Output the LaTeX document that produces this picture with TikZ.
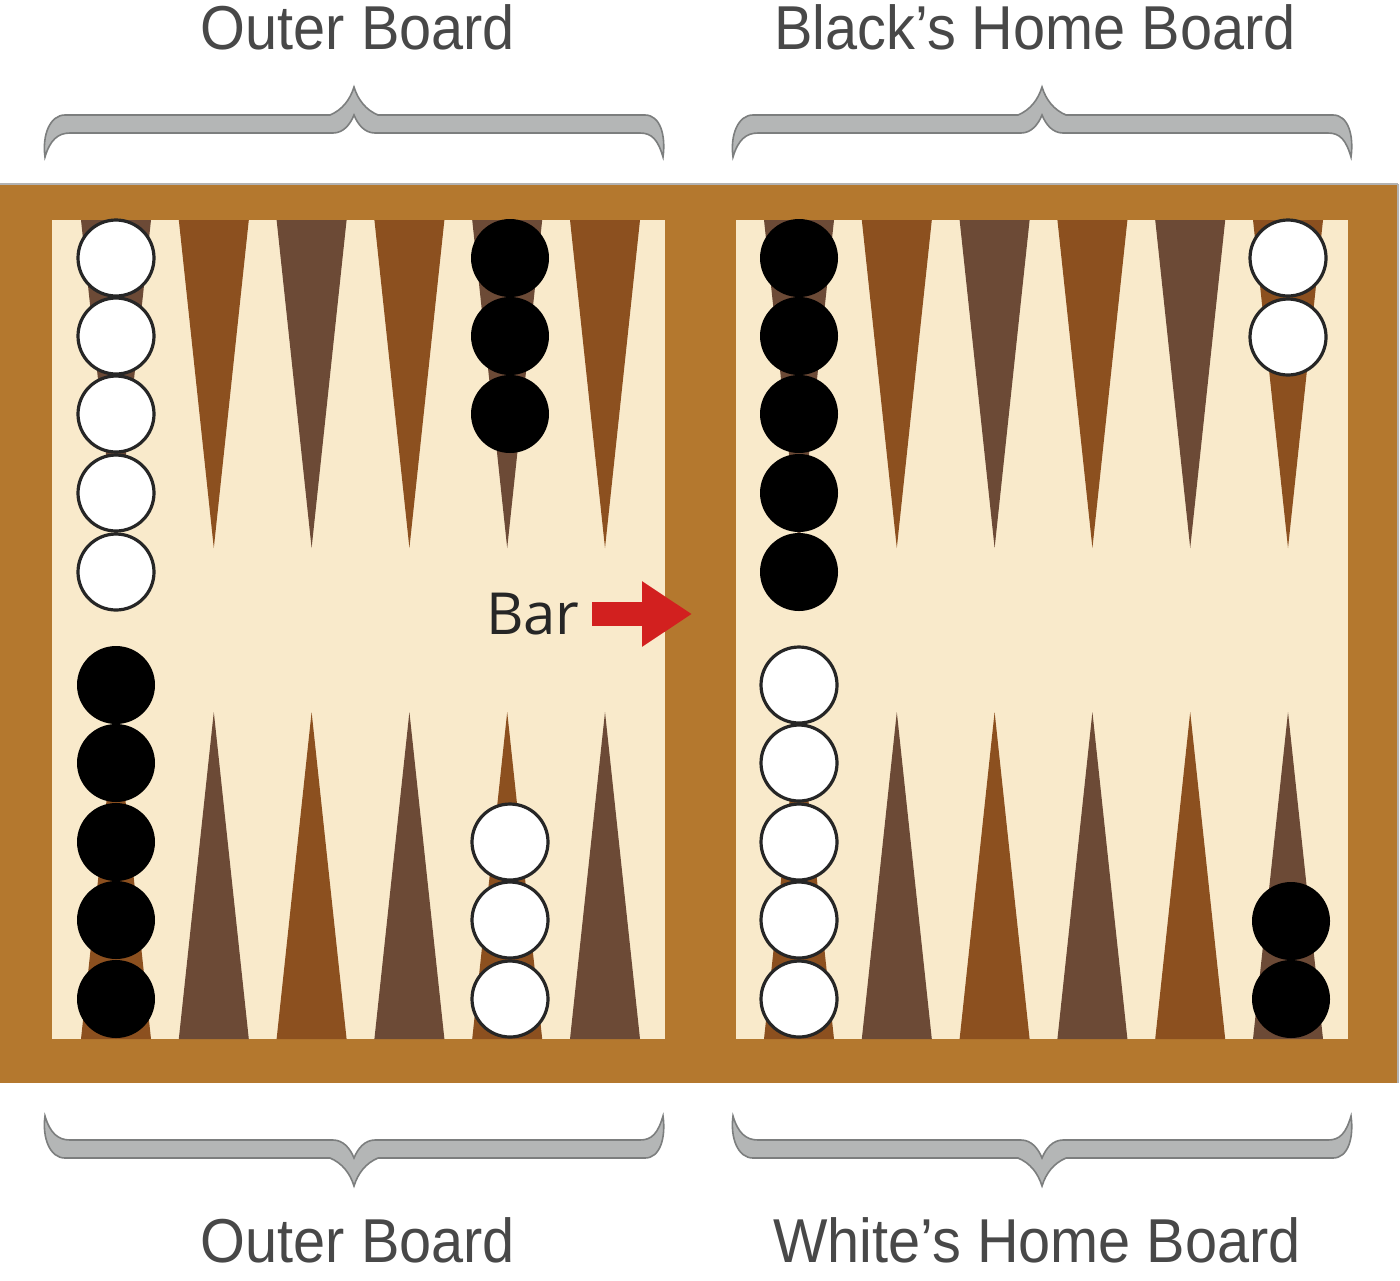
\documentclass[tikz,border=0pt]{standalone}
\usepackage{fontspec}
\setmainfont{Liberation Sans}
\newfontfamily\barfont{Open Sans}
\usetikzlibrary{arrows.meta}
\definecolor{boardframe}{HTML}{B4782E}
\definecolor{panelcream}{HTML}{F9EACB}
\definecolor{ptorange}{HTML}{8C501F}
\definecolor{ptdark}{HTML}{6C4A36}
\definecolor{bracefill}{HTML}{B4B6B6}
\definecolor{braceedge}{HTML}{7C7E7E}
\definecolor{headtext}{HTML}{484848}
\definecolor{arrowred}{HTML}{D2201F}
\tikzset{
  wchk/.style={circle, inner sep=0pt, minimum size=38pt, fill=white, draw=black!85, line width=1.6pt},
  bchk/.style={circle, inner sep=0pt, minimum size=39pt, fill=black},
  headlbl/.style={font=\fontsize{31}{34}\selectfont, text=headtext, xscale=0.93, inner sep=0pt},
  bracepath/.style={fill=bracefill, draw=braceedge, line width=0.8pt},
}
\newcommand{\bracefig}{%
  (-309,33) .. controls (-312,11) and (-304,-9) .. (-289,-9) -- (-24,-9)
  .. controls (-12,-14) and (-4,-24) .. (0,-37)
  .. controls (4,-24) and (12,-14) .. (24,-9) -- (291,-9)
  .. controls (306,-9) and (312,11) .. (309,33)
  .. controls (304,16) and (298,9) .. (286,9) -- (21,9)
  .. controls (11,9) and (4,1) .. (0,-9)
  .. controls (-4,1) and (-11,9) .. (-21,9) -- (-284,9)
  .. controls (-296,9) and (-304,16) .. (-309,33) -- cycle}
\begin{document}
\begin{tikzpicture}[x=0.5pt,y=-0.5pt]
\useasboundingbox (0,0) rectangle (1400,1280);
\fill[white] (0,0) rectangle (1400,1280);
% board
\fill[boardframe] (0,184) rectangle (1398,1083);
\draw[black!30, line width=1pt] (0,184) -- (1398,184);
\draw[black!30, line width=1pt] (1398,184) -- (1398,1083);
\fill[panelcream] (52,220) rectangle (665,1039);
\fill[panelcream] (736,220) rectangle (1348,1039);
% points
\foreach \c in {116,311.6,507.2,799,994.6,1190.2}
  \fill[ptdark] (\c-35,220) -- (\c+35,220) -- (\c,548) -- cycle;
\foreach \c in {213.8,409.4,605,896.8,1092.4,1288}
  \fill[ptorange] (\c-35,220) -- (\c+35,220) -- (\c,548) -- cycle;
\foreach \c in {116,311.6,507.2,799,994.6,1190.2}
  \fill[ptorange] (\c-35,1039) -- (\c+35,1039) -- (\c,712) -- cycle;
\foreach \c in {213.8,409.4,605,896.8,1092.4,1288}
  \fill[ptdark] (\c-35,1039) -- (\c+35,1039) -- (\c,712) -- cycle;
% checkers
\foreach \y [count=\k] in {258,336,414,493,572} {
  \node[wchk] (lw\k) at (116,\y) {};
  \node[bchk] (rb\k) at (799,\y) {};
}
\foreach \y [count=\k] in {685,763,842,920,999} {
  \node[bchk] (lb\k) at (116,\y) {};
  \node[wchk] (rw\k) at (799,\y) {};
}
\foreach \y [count=\k] in {258,336,414}
  \node[bchk] (tb\k) at (510,\y) {};
\foreach \y [count=\k] in {842,920,999}
  \node[wchk] (bw\k) at (510,\y) {};
\foreach \y [count=\k] in {258,337}
  \node[wchk] (hw\k) at (1288,\y) {};
\foreach \y [count=\k] in {921,999}
  \node[bchk] (hb\k) at (1291,\y) {};
% bar label and arrow
\node[anchor=east, inner sep=0pt, font=\barfont\fontsize{29}{32}\selectfont, text=black!85] (barlbl) at (580,614) {Bar};
\coordinate (bartip) at (692,614);
\draw[arrowred, line width=12pt, -{Triangle[length=25pt,width=31pt]}] ([xshift=6pt]barlbl.east) -- (bartip);
% braces
\begin{scope}[shift={(354,124)}] \path[bracepath] \bracefig; \end{scope}
\begin{scope}[shift={(1042,124)}] \path[bracepath] \bracefig; \end{scope}
\begin{scope}[shift={(354,1149)}, yscale=-1] \path[bracepath] \bracefig; \end{scope}
\begin{scope}[shift={(1042,1149)}, yscale=-1] \path[bracepath] \bracefig; \end{scope}
% headings
\node[headlbl] (tl) at (358,27) {Outer Board};
\node[headlbl] (tr) at (1035,27) {Black’s Home Board};
\node[headlbl] (bl) at (358,1240) {Outer Board};
\node[headlbl] (br) at (1037,1240) {White’s Home Board};
\end{tikzpicture}
\end{document}
